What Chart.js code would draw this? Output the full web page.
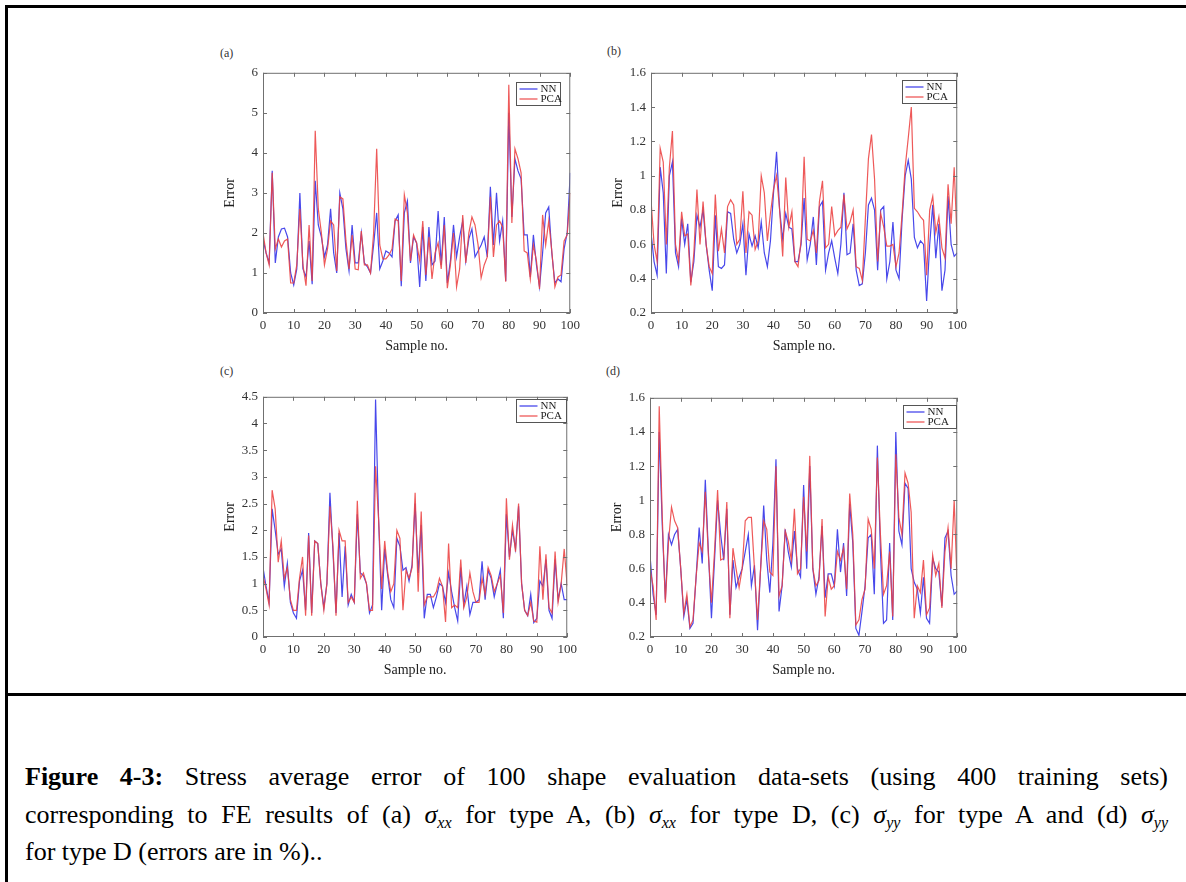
<!DOCTYPE html>
<html lang="en">
<head>
  <meta charset="UTF-8" />
  <title>Figure 4-3 - Stress average error</title>
  <script src="https://cdn.jsdelivr.net/npm/chart.js"></script>
  <style>
    body {
      margin: 0;
      background: #fff;
      width: 1186px;
      height: 882px;
      overflow: hidden;
      position: relative;
      font-family: 'Liberation Serif', 'Times New Roman', serif;
    }
    .rule { position: absolute; background: #000; }
    .rule.top { left: 5px; top: 5px; width: 1181px; height: 3px; }
    .rule.left { left: 5px; top: 5px; width: 3px; height: 877px; }
    .rule.mid { left: 5px; top: 693px; width: 1181px; height: 3px; }
    canvas { position: absolute; }
    .tag { position: absolute; font-size: 12px; color: #333; }
    .caption {
      position: absolute;
      left: 25px;
      top: 758px;
      width: 1143px;
      font-size: 26px;
      line-height: 37.5px;
      color: #000;
    }
    .caption div { text-align: justify; white-space: nowrap; }
    .caption .j { text-align-last: justify; }
    .caption sub { font-size: 16px; vertical-align: -5px; line-height: 0; }
  </style>
</head>
<body>
  <div class="rule top"></div>
  <div class="rule left"></div>
  <div class="rule mid"></div>

  <div class="tag" style="left:220px; top:46px">(a)</div>
  <div class="tag" style="left:607px; top:44px">(b)</div>
  <div class="tag" style="left:220px; top:364px">(c)</div>
  <div class="tag" style="left:606px; top:364px">(d)</div>

  <canvas id="chartA"></canvas>
  <canvas id="chartB"></canvas>
  <canvas id="chartC"></canvas>
  <canvas id="chartD"></canvas>

  <div class="caption">
    <div class="j"><b>Figure 4-3:</b> Stress average error of 100 shape evaluation data-sets (using 400 training sets)</div>
    <div class="j">corresponding to FE results of (a) <i>σ<sub>xx</sub></i> for type A, (b) <i>σ<sub>xx</sub></i> for type D, (c) <i>σ<sub>yy</sub></i> for type A and (d) <i>σ<sub>yy</sub></i></div>
    <div>for type D (errors are in %)..</div>
  </div>

  <script>
    // sample numbers along the x axis
    const samples = Array.from({ length: 101 }, (_, i) => i);
    const seriesNames = ["NN", "PCA"];

    // (a) sigma_xx, type A
    const nnA = [1.85, 1.5, 1.25, 3.55, 1.25, 1.9, 2.1, 2.12, 1.9, 1.0,
      0.7, 1.1, 3.0, 1.1, 0.9, 1.8, 0.72, 3.3, 2.2, 1.9,
      1.4, 1.7, 2.6, 1.5, 1.0, 3.0, 2.6, 1.6, 1.05, 2.2,
      1.25, 1.25, 2.0, 1.25, 1.15, 1.0, 1.7, 2.5, 1.1, 1.3,
      1.55, 1.5, 1.4, 2.3, 2.45, 0.67, 2.5, 2.8, 1.25, 1.9,
      1.75, 0.65, 2.15, 0.8, 2.15, 1.2, 1.3, 2.55, 1.2, 2.4,
      0.75, 1.3, 2.2, 1.4, 1.9, 2.3, 1.3, 1.85, 2.1, 1.4,
      1.55, 1.7, 1.9, 1.4, 3.15, 1.7, 3.0, 1.8, 2.3, 0.8,
      5.0, 2.4, 3.85, 3.55, 3.35, 1.95, 1.95, 0.9, 1.95, 1.2,
      0.65, 1.5, 2.5, 2.65, 1.5, 0.75, 0.85, 0.78, 1.6, 2.0, 3.5];
    const pcaA = [2.0, 1.5, 1.2, 3.5, 1.6, 1.85, 1.65, 1.8, 1.85, 0.75,
      0.75, 1.2, 2.6, 1.2, 0.68, 2.2, 0.8, 4.55, 2.6, 2.0,
      1.2, 1.6, 2.3, 2.2, 1.05, 2.9, 2.85, 1.8, 1.1, 1.95,
      1.1, 1.08, 2.05, 1.2, 1.2, 1.0, 2.0, 4.1, 1.7, 1.35,
      1.35, 1.45, 1.6, 2.35, 2.3, 0.8, 2.95, 2.5, 1.3, 1.95,
      1.75, 1.3, 2.3, 0.95, 1.9, 0.85, 1.5, 1.75, 1.1, 2.2,
      0.62, 1.2, 2.0, 0.65, 1.1, 2.45, 1.25, 2.0, 2.4, 2.2,
      1.7, 0.88, 1.2, 1.4, 2.9, 1.4, 2.2, 2.3, 2.15, 0.78,
      5.7, 2.25, 4.1, 3.85, 3.5, 1.55, 1.5, 0.85, 1.7, 1.3,
      0.6, 2.45, 1.7, 2.3, 1.55, 0.65, 0.9, 0.95, 1.8, 1.95, 3.0];

    // (b) sigma_xx, type D
    const nnB = [0.67, 0.5, 0.42, 1.05, 0.9, 0.43, 1.0, 1.08, 0.55, 0.47,
      0.75, 0.6, 0.72, 0.38, 0.5, 0.77, 0.7, 0.8, 0.6, 0.45,
      0.33, 0.77, 0.47, 0.46, 0.48, 0.79, 0.78, 0.63, 0.55, 0.6,
      0.72, 0.42, 0.66, 0.59, 0.65, 0.58, 0.73, 0.55, 0.47, 0.62,
      0.9, 1.14, 0.8, 0.63, 0.78, 0.7, 0.69, 0.5, 0.5, 0.6,
      0.87, 0.51, 0.6, 0.76, 0.48, 0.82, 0.85, 0.45, 0.55, 0.62,
      0.52, 0.43, 0.6, 0.9, 0.54, 0.55, 0.72, 0.45, 0.36, 0.37,
      0.55, 0.83, 0.87, 0.8, 0.45, 0.8, 0.82, 0.4, 0.5, 0.73,
      0.45, 0.4, 0.75, 1.0, 1.09, 0.98, 0.64, 0.58, 0.62, 0.6,
      0.27, 0.6, 0.83, 0.52, 0.72, 0.33, 0.45, 0.88, 0.6, 0.53, 0.55];
    const pcaB = [0.86, 0.6, 0.5, 1.16, 1.08, 0.6, 1.05, 1.26, 0.6, 0.5,
      0.79, 0.65, 0.66, 0.36, 0.55, 0.92, 0.6, 0.85, 0.6, 0.47,
      0.43, 0.89, 0.56, 0.69, 0.55, 0.82, 0.86, 0.83, 0.6, 0.63,
      0.91, 0.55, 0.79, 0.77, 0.57, 0.62, 1.0, 0.9, 0.62, 0.78,
      0.92, 1.0, 0.8, 0.53, 0.99, 0.7, 0.79, 0.5, 0.47, 0.62,
      1.11, 0.63, 0.62, 0.68, 0.55, 0.85, 0.97, 0.58, 0.6, 0.82,
      0.65, 0.68, 0.7, 0.89, 0.69, 0.73, 0.8, 0.47, 0.46, 0.39,
      0.75, 1.1, 1.24, 0.98, 0.5, 0.78, 0.7, 0.59, 0.59, 0.6,
      0.47, 0.55, 0.78, 1.05, 1.22, 1.4, 0.81, 0.79, 0.76, 0.74,
      0.42, 0.8, 0.88, 0.67, 0.76, 0.58, 0.52, 0.95, 0.72, 1.05, 0.6];

    // (c) sigma_yy, type A
    const nnC = [1.3, 0.95, 0.65, 2.4, 2.0, 1.55, 1.65, 0.95, 1.38, 0.65,
      0.45, 0.35, 1.05, 1.25, 0.5, 1.95, 0.45, 1.8, 1.75, 1.0,
      0.55, 1.0, 2.7, 1.6, 0.45, 1.95, 0.75, 1.7, 0.6, 0.8,
      0.65, 2.3, 1.2, 1.15, 1.0, 0.45, 0.6, 4.45, 2.2, 0.5,
      1.65, 1.15, 0.7, 0.55, 1.85, 1.7, 1.25, 1.3, 1.05, 1.35,
      2.5, 1.2, 2.1, 0.35, 0.8, 0.8, 0.55, 0.75, 1.0, 0.95,
      0.65, 1.2, 0.85, 0.55, 0.3, 1.3, 0.6, 0.95, 0.42, 0.65,
      0.65, 0.7, 1.42, 0.7, 1.25, 1.1, 0.75, 1.0, 1.25, 0.35,
      2.3, 1.5, 2.0, 1.65, 2.45, 1.0, 0.5, 0.4, 0.8, 0.27,
      0.35, 1.05, 0.95, 1.45, 0.5, 0.35, 1.45, 0.7, 1.0, 0.7, 0.7];
    const pcaC = [1.15, 0.9, 0.6, 2.75, 2.4, 1.4, 1.8, 1.1, 1.3, 0.7,
      0.5, 0.5, 1.1, 1.5, 0.4, 1.9, 0.4, 1.8, 1.75, 1.0,
      0.5, 1.0, 2.45, 1.7, 0.4, 2.0, 1.8, 1.8, 0.65, 0.75,
      0.65, 2.55, 1.1, 1.2, 1.0, 0.5, 0.5, 3.2, 2.2, 0.9,
      1.8, 1.2, 0.85, 1.0, 2.0, 1.85, 0.5, 1.25, 1.1, 1.3,
      2.7, 0.85, 2.35, 0.6, 0.75, 0.75, 0.75, 0.85, 1.1, 0.95,
      0.28, 1.75, 0.55, 0.6, 0.55, 1.45, 0.55, 0.75, 1.2, 0.85,
      0.65, 0.65, 1.1, 0.8, 1.3, 1.15, 0.85, 1.0, 1.15, 0.45,
      2.6, 1.45, 2.1, 1.6, 2.5, 1.0, 0.5, 0.4, 0.65, 0.3,
      0.28, 1.7, 0.7, 1.55, 0.55, 0.45, 1.6, 0.65, 1.0, 1.65, 0.95];

    // (d) sigma_yy, type D
    const nnD = [0.68, 0.45, 0.33, 1.4, 0.85, 0.42, 0.8, 0.74, 0.8, 0.83,
      0.6, 0.32, 0.42, 0.25, 0.28, 0.55, 0.84, 0.63, 1.12, 0.7,
      0.31, 0.65, 1.0, 0.8, 0.65, 0.95, 0.33, 0.65, 0.49, 0.55,
      0.6, 0.7, 0.8, 0.5, 0.62, 0.24, 0.6, 0.97, 0.65, 0.46,
      0.75, 1.24, 0.35, 0.5, 0.83, 0.7, 0.61, 0.82, 0.6, 0.55,
      1.09, 0.6, 1.2, 0.6, 0.45, 0.55, 0.85, 0.43, 0.57, 0.57,
      0.5, 0.83, 0.58, 0.75, 0.44, 0.98, 0.75, 0.25, 0.21, 0.35,
      0.5, 0.78, 0.8, 0.45, 1.32, 0.7, 0.28, 0.3, 0.75, 0.3,
      1.4, 0.82, 0.74, 1.1, 1.07, 0.6, 0.52, 0.48, 0.34, 0.55,
      0.31, 0.28, 0.66, 0.6, 0.58, 0.38, 0.78, 0.82, 0.56, 0.45, 0.47];
    const pcaD = [0.6, 0.5, 0.3, 1.55, 0.9, 0.4, 0.75, 0.96, 0.88, 0.84,
      0.6, 0.34, 0.45, 0.26, 0.3, 0.55, 0.75, 0.7, 1.05, 0.68,
      0.4, 0.7, 1.06, 0.65, 0.66, 0.99, 0.31, 0.72, 0.6, 0.49,
      0.6, 0.88, 0.9, 0.9, 0.6, 0.3, 0.6, 0.88, 0.83, 0.58,
      0.56, 1.2, 0.44, 0.5, 0.82, 0.76, 0.65, 0.95, 0.57, 0.6,
      1.02, 0.7, 1.26, 0.6, 0.5, 0.53, 0.89, 0.32, 0.55, 0.48,
      0.5, 0.7, 0.65, 0.72, 0.48, 1.04, 0.8, 0.27, 0.3, 0.42,
      0.48, 0.89, 0.83, 0.6, 1.25, 0.8, 0.45, 0.5, 0.7, 0.32,
      1.27, 0.9, 0.8, 1.16, 1.1, 0.93, 0.31, 0.5, 0.46, 0.65,
      0.33, 0.37, 0.68, 0.56, 0.63, 0.37, 0.7, 0.84, 0.6, 1.0, 0.5];

    Chart.defaults.font.family = "'Liberation Serif', 'Times New Roman', serif";
    Chart.defaults.color = "#333";

    // matlab style box: frame, inward ticks on all four sides, legend inside
    const matlabBox = {
      id: "matlabBox",
      afterDraw(chart, args, opts) {
        const { ctx, chartArea: a, scales } = chart;
        ctx.save();
        ctx.strokeStyle = "#707070";
        ctx.lineWidth = 1;
        ctx.strokeRect(a.left + 0.5, a.top + 0.5, a.width - 1, a.height - 1);
        const len = 4;
        ctx.beginPath();
        scales.x.ticks.forEach(t => {
          const px = Math.round(scales.x.getPixelForValue(t.value)) + 0.5;
          ctx.moveTo(px, a.bottom); ctx.lineTo(px, a.bottom - len);
          ctx.moveTo(px, a.top); ctx.lineTo(px, a.top + len);
        });
        scales.y.ticks.forEach(t => {
          const py = Math.round(scales.y.getPixelForValue(t.value)) + 0.5;
          ctx.moveTo(a.left, py); ctx.lineTo(a.left + len, py);
          ctx.moveTo(a.right, py); ctx.lineTo(a.right - len, py);
        });
        ctx.stroke();

        // legend
        const w = opts.width, h = 23;
        const lx = Math.round(a.right - opts.right - w) + 0.5;
        const ly = Math.round(a.top + opts.top) + 0.5;
        ctx.fillStyle = "#fff";
        ctx.fillRect(lx, ly, w, h);
        ctx.strokeStyle = "#555";
        ctx.strokeRect(lx, ly, w, h);
        ctx.font = "11px 'Liberation Serif', serif";
        ctx.textBaseline = "middle";
        chart.data.datasets.forEach((ds, i) => {
          const rowY = ly + 6.5 + i * 10;
          ctx.strokeStyle = ds.borderColor;
          ctx.lineWidth = 1.3;
          ctx.beginPath();
          ctx.moveTo(lx + 3, rowY);
          ctx.lineTo(lx + 21, rowY);
          ctx.stroke();
          ctx.fillStyle = "#222";
          ctx.fillText(ds.label, lx + 24, rowY + 0.5);
        });
        ctx.restore();
      }
    };

    function makePanel(id, nn, pca, plot, yRange, legend) {
      const yAxisW = 45, xAxisH = 46, padTop = 4, padRight = 4;
      const canvas = document.getElementById(id);
      canvas.width = yAxisW + plot.w + padRight;
      canvas.height = padTop + plot.h + xAxisH;
      canvas.style.left = (plot.left - yAxisW) + "px";
      canvas.style.top = (plot.top - padTop) + "px";

      new Chart(canvas, {
        type: "line",
        data: {
          datasets: [
            {
              label: seriesNames[0],
              data: samples.map((s, i) => ({ x: s, y: nn[i] })),
              borderColor: "rgb(72, 72, 235)",
              borderWidth: 1.2,
              pointRadius: 0,
              tension: 0,
              order: 1
            },
            {
              label: seriesNames[1],
              data: samples.map((s, i) => ({ x: s, y: pca[i] })),
              borderColor: "rgba(236, 66, 66, 0.88)",
              borderWidth: 1.2,
              pointRadius: 0,
              tension: 0,
              order: 0
            }
          ]
        },
        options: {
          responsive: false,
          animation: false,
          devicePixelRatio: 1,
          layout: { padding: { top: padTop, right: padRight, left: 0, bottom: 0 } },
          plugins: {
            legend: { display: false },
            tooltip: { enabled: false },
            matlabBox: legend
          },
          scales: {
            x: {
              type: "linear",
              min: 0,
              max: 100,
              grid: { display: false, drawTicks: false },
              border: { display: false },
              ticks: { stepSize: 10, autoSkip: false, maxRotation: 0, padding: 5, font: { size: 13 } },
              title: { display: true, text: "Sample no.", font: { size: 14 }, color: "#222", padding: { top: 2, bottom: 4 } },
              afterFit(scale) { scale.height = xAxisH; }
            },
            y: {
              min: yRange[0],
              max: yRange[1],
              grid: { display: false, drawTicks: false },
              border: { display: false },
              ticks: {
                stepSize: yRange[2],
                autoSkip: false,
                padding: 5,
                font: { size: 13 },
                callback: v => String(Math.round(v * 10) / 10)
              },
              title: { display: true, text: "Error", font: { size: 14 }, color: "#222", padding: { top: 4, bottom: 2 } },
              afterFit(scale) { scale.width = yAxisW; }
            }
          }
        },
        plugins: [matlabBox]
      });
    }

    makePanel("chartA", nnA, pcaA, { left: 263, top: 64, w: 318, h: 249 }, [0, 6, 1], { width: 44, right: 10, top: 9 });
    makePanel("chartB", nnB, pcaB, { left: 651, top: 64, w: 317, h: 249 }, [0.2, 1.6, 0.2], { width: 54, right: 1, top: 7 });
    makePanel("chartC", nnC, pcaC, { left: 263, top: 388, w: 315, h: 249 }, [0, 4.5, 0.5], { width: 50, right: 1, top: 2 });
    makePanel("chartD", nnD, pcaD, { left: 650, top: 389, w: 318, h: 248 }, [0.2, 1.6, 0.2], { width: 53, right: 1, top: 7 });
  </script>
</body>
</html>
